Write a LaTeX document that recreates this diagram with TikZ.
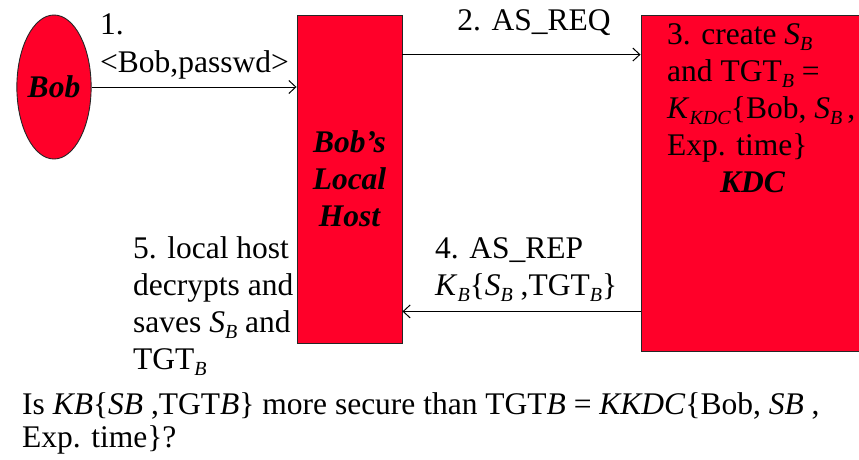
\documentclass[tikz,border=0pt]{standalone}
\usepackage{fontspec}
\setmainfont{Liberation Serif}
\usetikzlibrary{arrows.meta,shapes.geometric}
\definecolor{boxred}{RGB}{255,0,41}
\newcommand\sub[1]{\raisebox{-6pt}{\fontsize{20}{20}\selectfont\textit{#1}}}
\begin{document}
\begin{tikzpicture}[x=1pt,y=-1pt,
  txt/.style={inner sep=0pt, font=\fontsize{31.5}{37}\selectfont, align=left},
  ent/.style={draw=black!85, line width=0.9pt, fill=boxred, inner sep=0pt,
              font=\fontsize{31.5}{37}\selectfont\bfseries\itshape},
  msg/.style={draw=black, line width=1pt, -{Straight Barb[length=7pt,width=13pt]}}]
\useasboundingbox (0,0) rectangle (859,460);
% entities
\node[ent, ellipse, minimum width=72pt, minimum height=144pt] (bob) at (54,87) {Bob};
\node[ent, rectangle, minimum width=105pt, minimum height=328pt, align=center] (host) at (349.5,179) {Bob’s\\Local\\Host};
\node[ent, rectangle, minimum width=221pt, minimum height=336pt] (kdc) at (751.5,183) {};
% text blocks: base anchor = baseline of the last line
\node[txt, anchor=base west] (kdctext) at (667,192)
  {3. create \textit{S}\sub{B}\\and TGT\sub{B} =\\\textit{K}\sub{KDC}\{Bob, \textit{S}\sub{B}\,,\\Exp. time\}\\\hspace*{53pt}\textbf{\textit{KDC}}};
% messages
\draw[msg] (bob.east) -- (bob.east -| host.west);
\draw[msg] ([yshift=-40pt]host.north east) coordinate (a2) -- (a2 -| kdc.west);
\draw[msg] ([yshift=40pt]kdc.south west) coordinate (a4) -- (a4 -| host.east);
% labels
\node[txt, anchor=base west] (l1) at (100,72) {1.\\<Bob,passwd>};
\node[txt, anchor=base] (l2) at (534,31) {2. AS\_REQ};
\node[txt, anchor=base west] (l4) at (435,295) {4. AS\_REP\\\textit{K}\sub{B}\{\textit{S}\sub{B} ,TGT\sub{B}\}};
\node[txt, anchor=base west] (l5) at (133,369) {5. local host\\decrypts and\\saves \textit{S}\sub{B} and\\TGT\sub{B}};
\node[txt, anchor=base west, font=\fontsize{31.5}{33}\selectfont] (q) at (22,447)
  {Is \textit{KB}\{\textit{SB} ,TGT\textit{B}\} more secure than TGT\textit{B} = \textit{KKDC}\{Bob, \textit{SB} ,\\Exp. time\}?};
\end{tikzpicture}
\end{document}
